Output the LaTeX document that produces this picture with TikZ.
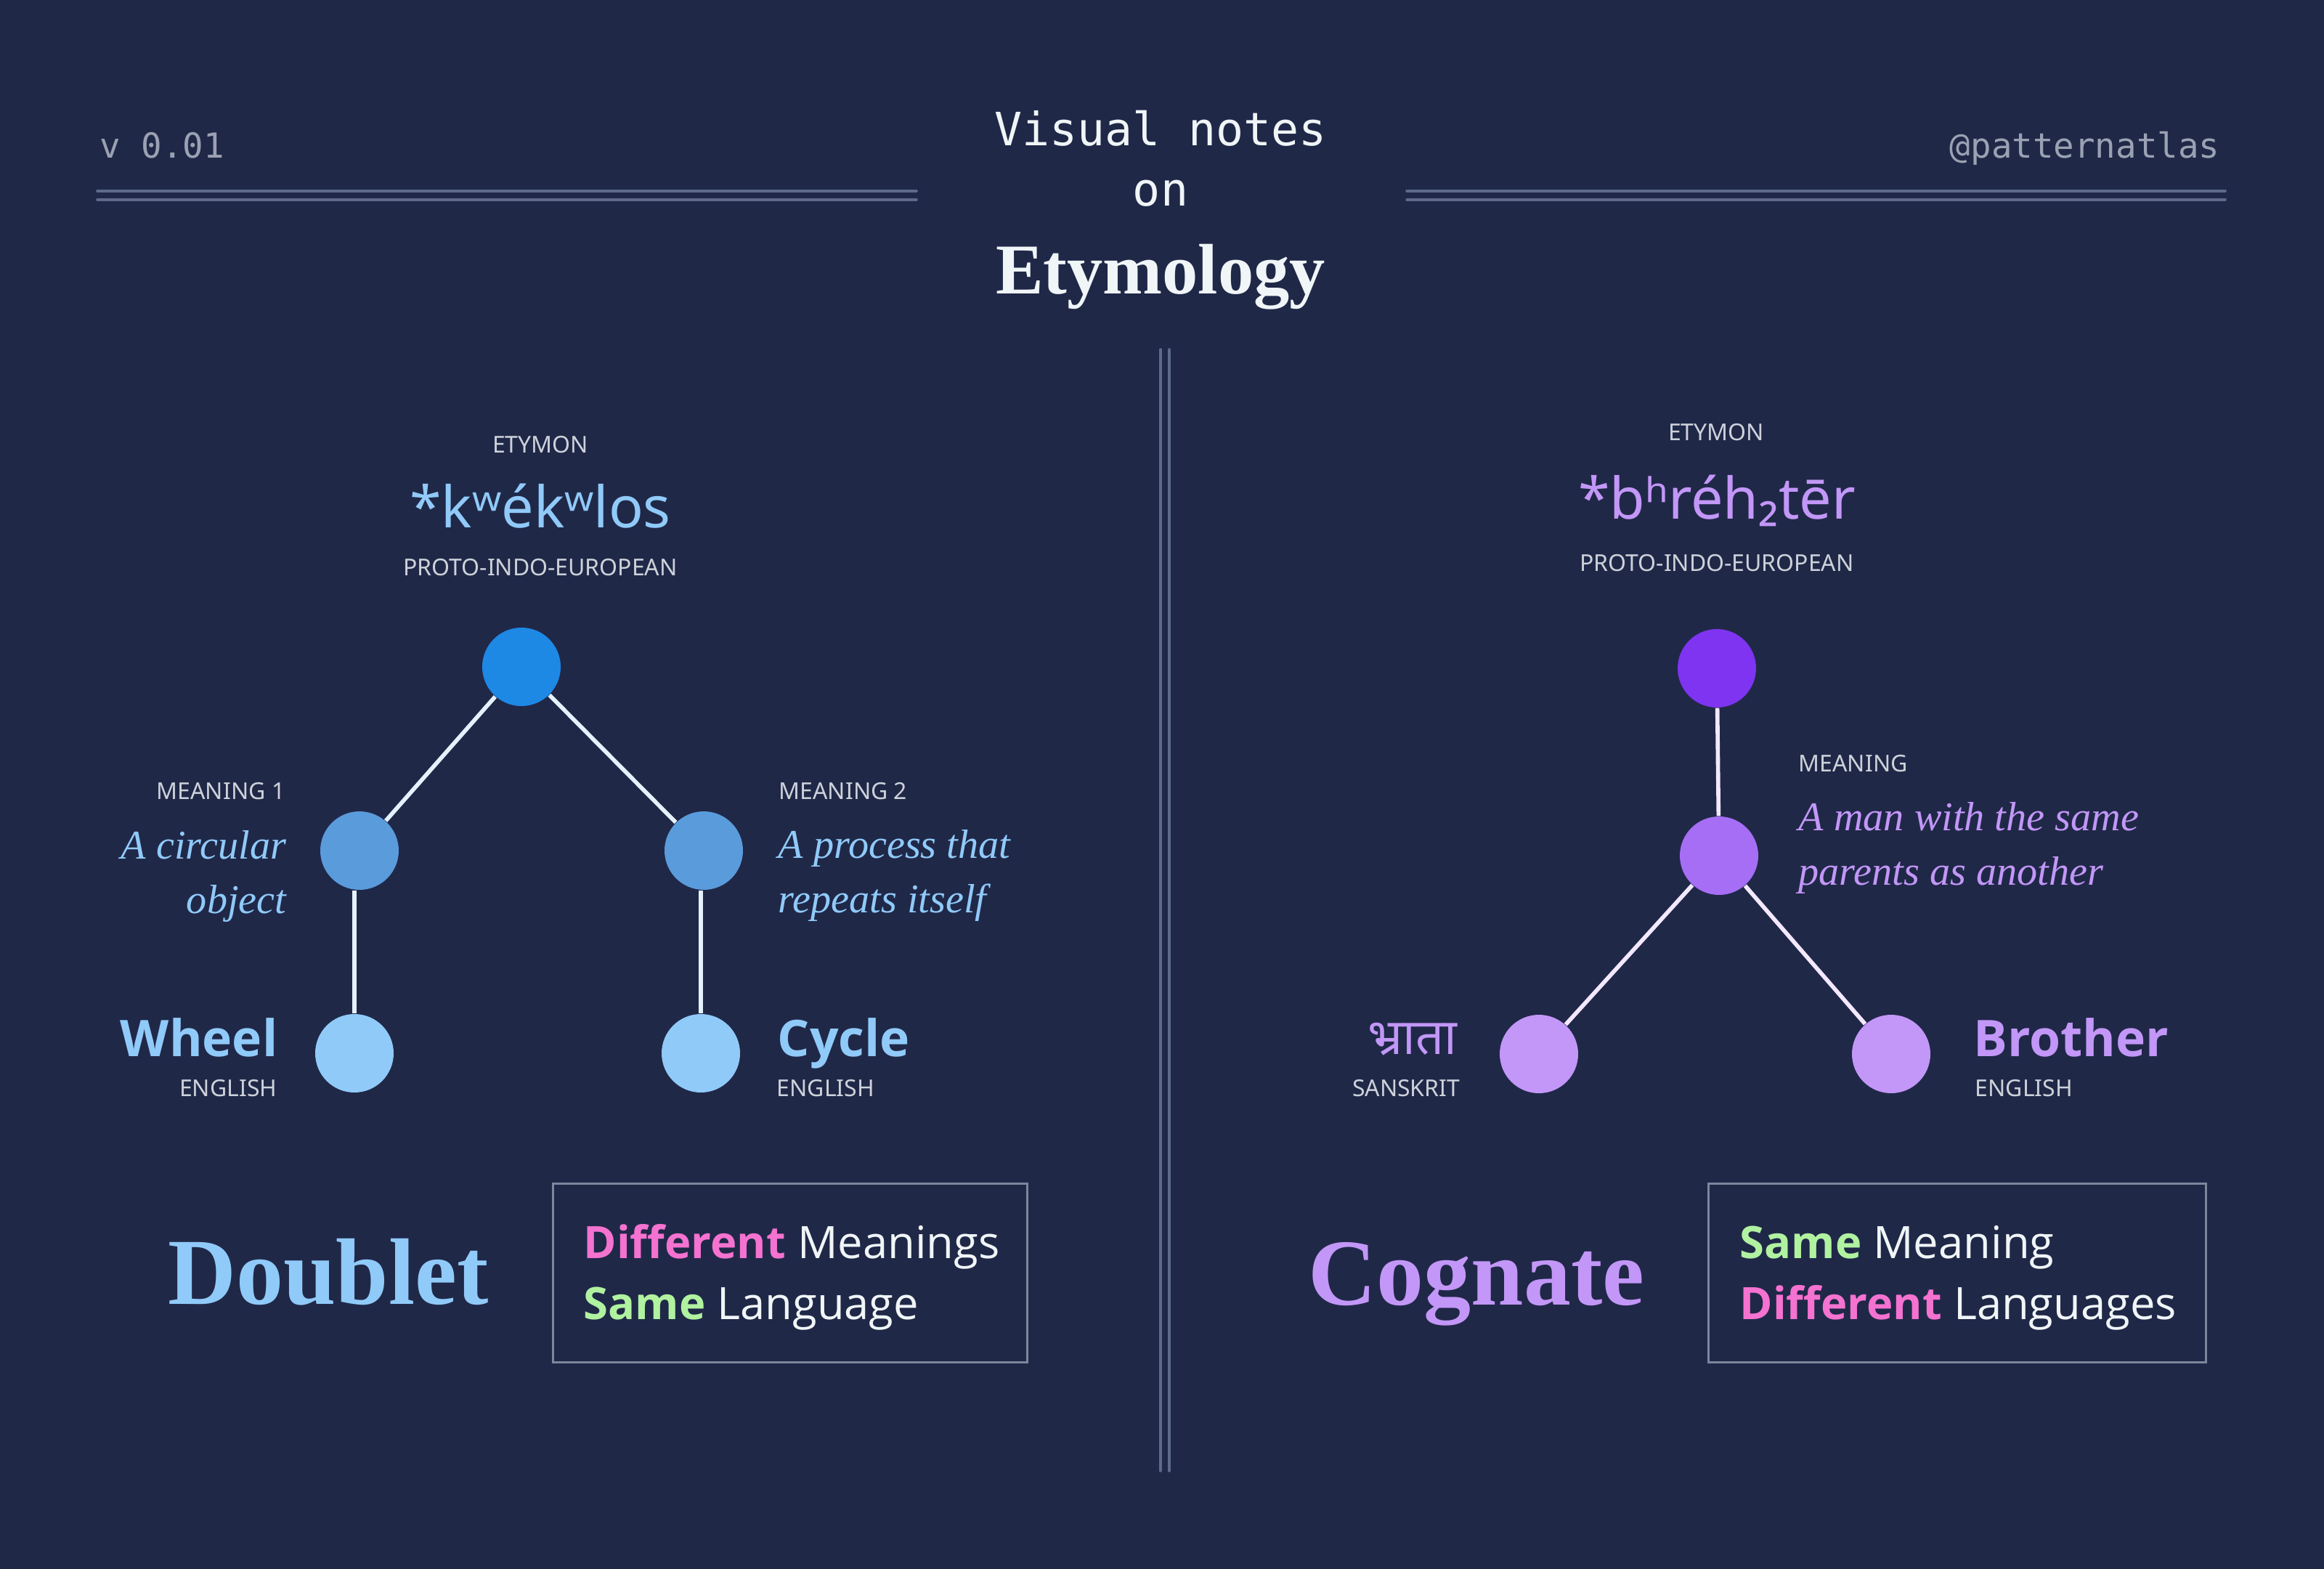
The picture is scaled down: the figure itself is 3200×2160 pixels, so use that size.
\documentclass[tikz,border=0pt]{standalone}
\usepackage{fontspec}
\setmainfont{Liberation Serif}
\setsansfont{Noto Sans}
\setmonofont{DejaVu Sans Mono}
\newfontfamily\devfont[Script=Devanagari]{Noto Sans}
\newfontfamily\wordfont{Open Sans}

\definecolor{bgnavy}{HTML}{202848}
\definecolor{rulegray}{HTML}{5E6A89}
\definecolor{boxgray}{HTML}{7D869B}
\definecolor{labelgray}{HTML}{CDD2DA}
\definecolor{versiongray}{HTML}{9AA1B2}
\definecolor{titlewhite}{HTML}{F0F5F7}
\definecolor{cblueroot}{HTML}{1E88E5}
\definecolor{cbluemid}{HTML}{5A9BDC}
\definecolor{cbluelight}{HTML}{90CAF9}
\definecolor{cblueedge}{HTML}{E3F2FD}
\definecolor{cpurproot}{HTML}{7E34F0}
\definecolor{cpurpmid}{HTML}{A56EF5}
\definecolor{cpurplight}{HTML}{C297F7}
\definecolor{cpurpedge}{HTML}{F3E8FF}
\definecolor{cpink}{HTML}{F472D0}
\definecolor{cgreen}{HTML}{B0F2A0}

\tikzset{%
  % Specifications for style of nodes:
            base/.style = {circle, minimum size=10.8mm, inner sep=0pt},
		rootblue/.style = {base, fill=cblueroot},
		midblue/.style = {base, fill=cbluemid},
		leafblue/.style = {base, fill=cbluelight},
		rootpurple/.style = {base, fill=cpurproot},
		midpurple/.style = {base, fill=cpurpmid},
		leafpurple/.style = {base, fill=cpurplight},
  % Specifications for style of texts:
		tag/.style = {inner sep=0pt, text=labelgray,
                           font=\sffamily\fontsize{9.1}{11}\selectfont},
		etym/.style = {inner sep=0pt, anchor=base,
                           font=\sffamily\fontsize{22.5}{27}\selectfont},
		gloss/.style = {inner sep=0pt,
                           font=\rmfamily\itshape\fontsize{16}{21.2}\selectfont},
		word/.style = {inner sep=0pt,
                           font=\wordfont\bfseries\fontsize{19.8}{24}\selectfont},
		kind/.style = {inner sep=0pt, anchor=base,
                           font=\rmfamily\bfseries\fontsize{37}{44}\selectfont},
		headmono/.style = {inner sep=0pt, anchor=base, text=titlewhite,
                           font=\ttfamily\fontsize{18}{22}\selectfont},
		cornermono/.style = {inner sep=0pt, text=versiongray,
                           font=\ttfamily\fontsize{13.5}{16}\selectfont},
		sumbox/.style = {rectangle, draw=boxgray, line width=0.85pt,
                           minimum height=24.6mm, inner sep=0pt},
		sumtext/.style = {inner sep=0pt, anchor=base west, align=left,
                           text=titlewhite,
                           font=\wordfont\fontsize{17.5}{23.9}\selectfont},
  % Specifications for style of lines:
		rule/.style = {draw=rulegray, line width=1pt, line cap=round},
		blueedge/.style = {draw=cblueedge, line width=1.6pt},
		purpedge/.style = {draw=cpurpedge, line width=1.6pt},
}

\begin{document}
\begin{tikzpicture}[x=0.1mm, y=-0.1mm]
  \fill[bgnavy] (0,0) rectangle (3200,2160);

  % Header
  \node (ver)    [cornermono, anchor=base west] at (137,217)  {v 0.01};
  \node (handle) [cornermono, anchor=base east] at (3057,217) {@patternatlas};
  \node (title)  [headmono] at (1598,200) {Visual notes};
  \node (on)     [headmono] at (1598,283) {on};
  \node (topic)  [inner sep=0pt, anchor=base, text=titlewhite,
                  font=\rmfamily\bfseries\fontsize{28}{33}\selectfont]
                 at (1598,404) {Etymology};
  \draw[rule] (134,263) -- (1262,263);
  \draw[rule] (134,275) -- (1262,275);
  \draw[rule] (1937,263) -- (3064,263);
  \draw[rule] (1937,275) -- (3064,275);
  \draw[rule] (1598,481) -- (1598,2025);
  \draw[rule] (1610,481) -- (1610,2025);

  % Doublet tree (position, etc.)
  \node (kroot)  [rootblue] at (718,918)  {};
  \node (kmean1) [midblue]  at (495,1171) {};
  \node (kmean2) [midblue]  at (969,1171) {};
  \node (wheel)  [leafblue] at (488,1450) {};
  \node (cycle)  [leafblue] at (965,1450) {};

  \node (ketymon) [tag, anchor=base] at (744,623) {ETYMON};
  \node (kform)   [etym, text=cbluelight] at (744,726) {*kʷékʷlos};
  \node (klang)   [tag, anchor=base] at (744,792) {PROTO-INDO-EUROPEAN};
  \node (m1tag)   [tag, anchor=base east] at (393,1100) {MEANING 1};
  \node (m1text)  [gloss, anchor=base east, align=right, text=cbluelight]
                  at (395,1257) {A circular\\object};
  \node (m2tag)   [tag, anchor=base west] at (1072,1100) {MEANING 2};
  \node (m2text)  [gloss, anchor=base west, align=left, text=cbluelight]
                  at (1071,1256) {A process that\\repeats itself};
  \node (wword)   [word, anchor=base east, text=cbluelight] at (383,1454) {Wheel};
  \node (wlang)   [tag, anchor=base east] at (382,1509) {ENGLISH};
  \node (cword)   [word, anchor=base west, text=cbluelight] at (1070,1454) {Cycle};
  \node (clang)   [tag, anchor=base west] at (1069,1509) {ENGLISH};

  \draw[blueedge] (kroot) -- (kmean1);
  \draw[blueedge] (kroot) -- (kmean2);
  \draw[blueedge] (wheel) -- (wheel |- kmean1.south);
  \draw[blueedge] (cycle) -- (cycle |- kmean2.south);

  % Cognate tree
  \node (broot)   [rootpurple] at (2364,920)  {};
  \node (bmean)   [midpurple]  at (2367,1178) {};
  \node (bhrata)  [leafpurple] at (2119,1451) {};
  \node (brother) [leafpurple] at (2604,1451) {};

  \node (betymon) [tag, anchor=base] at (2363,606) {ETYMON};
  \node (bform)   [etym, text=cpurplight] at (2364,714) {*bʰréh₂tēr};
  \node (blang)   [tag, anchor=base] at (2364,786) {PROTO-INDO-EUROPEAN};
  \node (mtag)    [tag, anchor=base west] at (2476,1062) {MEANING};
  \node (mtext)   [gloss, anchor=base west, align=left, text=cpurplight]
                  at (2476,1218) {A man with the same\\parents as another};
  \node (sword)   [inner sep=0pt, anchor=base east, text=cpurplight,
                   font=\devfont\fontsize{19.5}{24}\selectfont]
                  at (2007,1451) {भ्राता};
  \node (slang)   [tag, anchor=base east] at (2011,1509) {SANSKRIT};
  \node (eword)   [word, anchor=base west, text=cpurplight] at (2717,1454) {Brother};
  \node (elang)   [tag, anchor=base west] at (2719,1509) {ENGLISH};

  \draw[purpedge] (broot) -- (bmean);
  \draw[purpedge] (bmean) -- (bhrata);
  \draw[purpedge] (bmean) -- (brother);

  % Summaries
  \node (doublet) [kind, text=cbluelight] at (452,1795) {Doublet};
  \node (dsum)    [sumbox, minimum width=65.3mm] at (1087.5,1752) {};
  \node (dtext)   [sumtext] at (803,1816)
        {{\bfseries\color{cpink}Different} Meanings\\{\bfseries\color{cgreen}Same} Language};
  \node (cognate) [kind, text=cpurplight] at (2033,1796) {Cognate};
  \node (csum)    [sumbox, minimum width=68.5mm] at (2694.5,1752) {};
  \node (ctext)   [sumtext] at (2395,1816)
        {{\bfseries\color{cgreen}Same} Meaning\\{\bfseries\color{cpink}Different} Languages};
\end{tikzpicture}
\end{document}
